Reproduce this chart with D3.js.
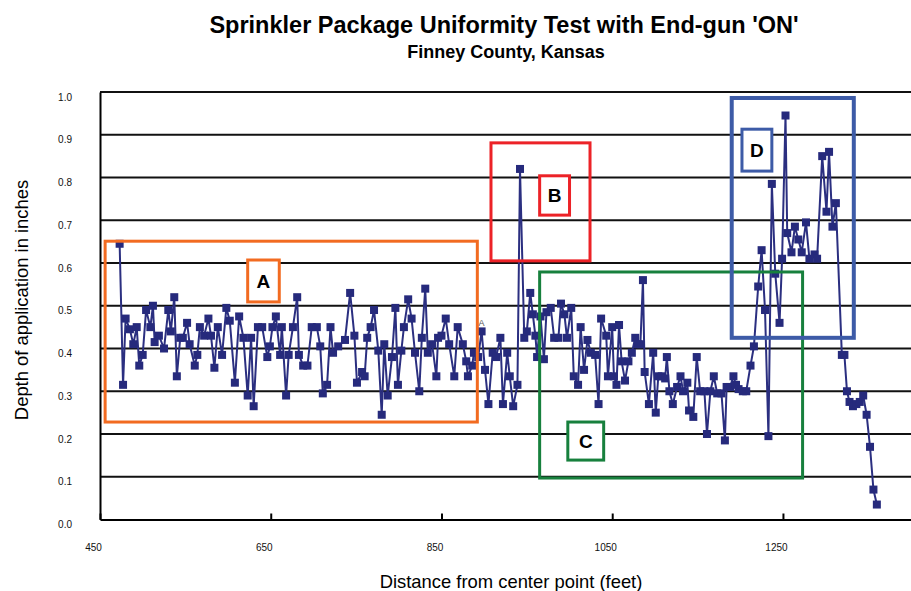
<!DOCTYPE html>
<html>
<head>
<meta charset="utf-8">
<script src="https://cdn.jsdelivr.net/npm/d3@7"></script>
<style>
  body { margin: 0; background: #fff; }
  svg { font-family: 'Liberation Sans', Arial, sans-serif; display: block; }
</style>
</head>
<body>
<svg id="chart" width="911" height="591"></svg>
<script>
// Distance from center point (feet)
var distance = [
  473, 477, 480, 485, 489, 493, 496, 500, 504, 509, 512, 514, 519, 525, 530, 533,
  537, 540, 544, 547, 552, 555, 561, 564, 567, 572, 577, 580, 584, 588, 593, 598,
  602, 608, 613, 618, 623, 627, 630, 635, 640, 646, 649, 652, 656, 661, 663, 668,
  671, 676, 681, 683, 688, 693, 698, 704, 708, 711, 716, 720, 723, 729, 737, 743,
  748, 751, 757, 760, 763, 767, 771, 776, 780, 783, 787, 792, 796, 799, 803, 806,
  811, 815, 819, 824, 827, 831, 834, 839, 844, 846, 850, 855, 859, 865, 869, 875,
  879, 881, 886, 888, 893, 897, 901, 905,
  910, 914, 919, 922, 927, 930, 934, 939, 942, 947, 950, 954, 957, 960, 962, 966,
  970, 973, 978, 982, 987, 990, 994, 997, 1002, 1005, 1010, 1013, 1017, 1021, 1025, 1030,
  1034, 1037,
  1043, 1045, 1050, 1052, 1055, 1058, 1061, 1065, 1069, 1073, 1077, 1080, 1083, 1086, 1088, 1093,
  1098, 1101, 1104, 1108, 1112, 1114, 1117, 1121, 1126, 1130, 1133, 1138, 1140, 1145, 1149, 1153,
  1158, 1161, 1165, 1169, 1173, 1178, 1182, 1184, 1188, 1192, 1195, 1198, 1203, 1207, 1212, 1216,
  1221, 1225, 1229, 1233, 1237, 1241, 1246, 1249, 1253, 1255, 1260, 1264, 1268, 1272, 1277, 1281,
  1287, 1290, 1296, 1301, 1304, 1308, 1312, 1319, 1322, 1325, 1328, 1332, 1336, 1340, 1344, 1348,
  1352, 1356, 1360
];

// Depth of application in inches
var depth = [
  0.645, 0.315, 0.47, 0.445, 0.41, 0.45, 0.36, 0.385, 0.49, 0.45, 0.50, 0.415, 0.43, 0.40, 0.49, 0.44,
  0.52, 0.335, 0.425, 0.425, 0.46, 0.41, 0.36, 0.385, 0.45, 0.43, 0.47, 0.43, 0.355, 0.45, 0.385, 0.495,
  0.465, 0.32, 0.475, 0.425, 0.29, 0.425, 0.265, 0.45, 0.45, 0.38, 0.405, 0.45, 0.475, 0.385, 0.45, 0.29,
  0.385, 0.45, 0.52, 0.385, 0.36, 0.36, 0.45, 0.45, 0.405, 0.295, 0.315, 0.45, 0.39, 0.405, 0.42, 0.53,
  0.43, 0.32, 0.345, 0.335, 0.425, 0.45, 0.49, 0.395, 0.245, 0.41, 0.29, 0.38, 0.495, 0.315, 0.395, 0.45,
  0.515, 0.47, 0.39, 0.30, 0.425, 0.54, 0.39, 0.41, 0.335, 0.425, 0.43, 0.47, 0.41, 0.335, 0.45, 0.41,
  0.37, 0.335, 0.36, 0.39, 0.38, 0.44, 0.35, 0.27,
  0.39, 0.38, 0.425, 0.27, 0.39, 0.335, 0.265, 0.315, 0.82, 0.425, 0.44, 0.53, 0.48, 0.43, 0.38, 0.475,
  0.375, 0.485, 0.495, 0.425, 0.425, 0.505, 0.48, 0.425, 0.495, 0.335, 0.315, 0.45, 0.35, 0.42, 0.39, 0.385,
  0.27, 0.47,
  0.43, 0.335, 0.45, 0.335, 0.315, 0.455, 0.37, 0.325, 0.37, 0.39, 0.425, 0.41, 0.41, 0.56, 0.345, 0.27,
  0.39, 0.25, 0.335, 0.335, 0.33, 0.38, 0.30, 0.27, 0.31, 0.335, 0.30, 0.32, 0.255, 0.24, 0.38, 0.30,
  0.30, 0.20, 0.30, 0.335, 0.295, 0.295, 0.185, 0.31, 0.31, 0.335, 0.315, 0.305, 0.30, 0.30, 0.36, 0.405,
  0.545, 0.63, 0.49, 0.195, 0.785, 0.575, 0.46, 0.61, 0.945, 0.67, 0.625, 0.685, 0.655, 0.625, 0.695, 0.61,
  0.62, 0.61, 0.85, 0.72, 0.86, 0.685, 0.74, 0.385, 0.385, 0.30, 0.275, 0.265, 0.27, 0.275, 0.29, 0.245,
  0.17, 0.07, 0.035
];

var xTicks = [450, 650, 850, 1050, 1250];
var yTicks = [0, 0.1, 0.2, 0.3, 0.4, 0.5, 0.6, 0.7, 0.8, 0.9, 1.0];

// Highlight zones: x range in feet, y range in inches
var zoneNames = ['A', 'B', 'C', 'D'];
var zoneX = [[456, 892], [908, 1024], [965, 1273], [1190, 1333]];
var zoneY = [[0.228, 0.651], [0.605, 0.881], [0.097, 0.579], [0.425, 0.986]];
var zoneColor = ['#f26b21', '#ec2227', '#17803d', '#3d5ba7'];
var zoneWidth = [3, 3, 3, 4];
// label boxes
var tagX = [[623, 660], [965, 1000], [998, 1040], [1202, 1237]];
var tagY = [[0.509, 0.607], [0.712, 0.804], [0.139, 0.228], [0.815, 0.913]];

var data = distance.map(function(d, i) { return { x: d, y: depth[i] }; });

var svg = d3.select('#chart');
var x = d3.scaleLinear().domain([450, 1400]).range([100, 911]);
var y = d3.scaleLinear().domain([0, 1]).range([519.5, 92]);

svg.append('rect').attr('width', 911).attr('height', 591).attr('fill', '#fff');

// gridlines
svg.append('g').selectAll('line')
    .data(yTicks.slice(1))
    .enter().append('line')
    .attr('x1', 100).attr('x2', 911)
    .attr('y1', function(d) { return y(d); })
    .attr('y2', function(d) { return y(d); })
    .attr('stroke', '#111').attr('stroke-width', 2);

// axes
var xAxis = d3.axisBottom(x).tickValues(xTicks).tickSizeInner(-6).tickSizeOuter(0)
    .tickFormat(d3.format('d'));
var gx = svg.append('g').attr('transform', 'translate(0,519.5)').call(xAxis);
gx.select('.domain').attr('stroke', '#000').attr('stroke-width', 2);
gx.selectAll('.tick line').attr('stroke', '#000').attr('stroke-width', 2);
gx.selectAll('.tick text').attr('y', 24).attr('dx', -7)
    .attr('font-size', 10).attr('font-family', 'Liberation Sans, Arial, sans-serif').attr('fill', '#111');

var yAxis = d3.axisLeft(y).tickValues(yTicks).tickSize(0).tickFormat(d3.format('.1f'));
var gy = svg.append('g').attr('transform', 'translate(100,0)').call(yAxis);
gy.select('.domain').attr('stroke', '#000').attr('stroke-width', 2);
gy.selectAll('.tick text').attr('x', -28).attr('dy', 8)
    .attr('font-size', 10).attr('font-family', 'Liberation Sans, Arial, sans-serif').attr('fill', '#111');

// series
var line = d3.line()
    .x(function(d) { return x(d.x); })
    .y(function(d) { return y(d.y); });

svg.append('path')
    .datum(data)
    .attr('fill', 'none')
    .attr('stroke', '#2b2f80')
    .attr('stroke-width', 2)
    .attr('d', line);

svg.append('g').selectAll('rect')
    .data(data)
    .enter().append('rect')
    .attr('x', function(d) { return x(d.x) - 4; })
    .attr('y', function(d) { return y(d.y) - 4; })
    .attr('width', 8).attr('height', 8)
    .attr('fill', '#262a7c');

// small marker label
svg.append('text')
    .attr('x', x(897)).attr('y', y(0.44) - 5)
    .attr('text-anchor', 'middle')
    .attr('font-size', 9).attr('fill', '#555')
    .text('A');

// zones
svg.append('g').selectAll('rect')
    .data(zoneNames)
    .enter().append('rect')
    .attr('x', function(d, i) { return x(zoneX[i][0]); })
    .attr('y', function(d, i) { return y(zoneY[i][1]); })
    .attr('width', function(d, i) { return x(zoneX[i][1]) - x(zoneX[i][0]); })
    .attr('height', function(d, i) { return y(zoneY[i][0]) - y(zoneY[i][1]); })
    .attr('fill', 'none')
    .attr('stroke', function(d, i) { return zoneColor[i]; })
    .attr('stroke-width', function(d, i) { return zoneWidth[i]; });

var tag = svg.append('g').selectAll('g')
    .data(zoneNames)
    .enter().append('g');
tag.append('rect')
    .attr('x', function(d, i) { return x(tagX[i][0]); })
    .attr('y', function(d, i) { return y(tagY[i][1]); })
    .attr('width', function(d, i) { return x(tagX[i][1]) - x(tagX[i][0]); })
    .attr('height', function(d, i) { return y(tagY[i][0]) - y(tagY[i][1]); })
    .attr('fill', '#fff')
    .attr('stroke', function(d, i) { return zoneColor[i]; })
    .attr('stroke-width', 3);
tag.append('text')
    .attr('x', function(d, i) { return (x(tagX[i][0]) + x(tagX[i][1])) / 2; })
    .attr('y', function(d, i) { return (y(tagY[i][0]) + y(tagY[i][1])) / 2 + 7; })
    .attr('text-anchor', 'middle')
    .attr('font-size', 19).attr('font-weight', 'bold').attr('fill', '#000')
    .text(function(d) { return d; });

// titles
svg.append('text')
    .attr('x', 504).attr('y', 33)
    .attr('text-anchor', 'middle')
    .attr('font-size', 23.5).attr('font-weight', 'bold')
    .text("Sprinkler Package Uniformity Test with End-gun 'ON'");
svg.append('text')
    .attr('x', 506).attr('y', 58)
    .attr('text-anchor', 'middle')
    .attr('font-size', 18).attr('font-weight', 'bold')
    .text('Finney County, Kansas');
svg.append('text')
    .attr('x', 511).attr('y', 588)
    .attr('text-anchor', 'middle')
    .attr('font-size', 18.4)
    .text('Distance from center point (feet)');
svg.append('text')
    .attr('transform', 'translate(28,300) rotate(-90)')
    .attr('text-anchor', 'middle')
    .attr('font-size', 18.4)
    .text('Depth of application in inches');
</script>
</body>
</html>
